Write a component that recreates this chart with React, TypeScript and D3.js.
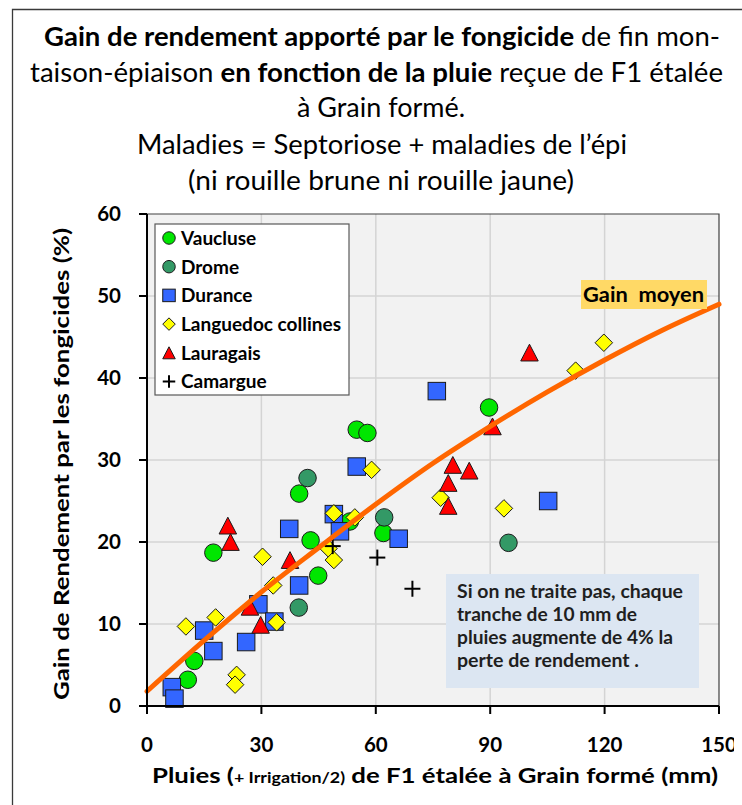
import React from 'react';
import * as d3 from 'd3';

// ---------- data ----------
const xTicks = [0, 30, 60, 90, 120, 150];
const yTicks = [0, 10, 20, 30, 40, 50, 60];

const vaucluseX = [55.0, 57.8, 39.9, 42.9, 17.4, 44.9, 53.2, 62.0, 12.4, 10.7, 89.7];
const vaucluseY = [33.7, 33.3, 25.9, 20.2, 18.7, 15.9, 22.5, 21.1, 5.5, 3.2, 36.4];

const dromeX = [42.1, 62.2, 39.8, 94.8];
const dromeY = [27.8, 23.0, 12.0, 19.9];

const duranceX = [76.0, 55.0, 49.0, 50.6, 37.3, 66.0, 39.9, 29.2, 33.4, 15.0, 17.4, 26.0, 6.5, 7.2, 105.2];
const duranceY = [38.4, 29.2, 23.4, 21.3, 21.6, 20.4, 14.7, 12.4, 10.3, 9.2, 6.7, 7.8, 2.3, 0.9, 25.0];

const languedocX = [58.9, 49.0, 54.5, 47.6, 49.0, 30.3, 33.1, 34.0, 10.2, 18.0, 23.5, 23.1, 77.0, 93.6, 112.4, 119.8];
const languedocY = [28.8, 23.5, 23.0, 19.2, 17.8, 18.2, 14.7, 10.2, 9.7, 10.8, 3.8, 2.6, 25.4, 24.1, 40.9, 44.3];

const lauragaisX = [21.2, 21.9, 37.5, 27.0, 29.8, 100.3, 90.6, 80.2, 84.5, 79.0, 79.0];
const lauragaisY = [22.0, 20.0, 17.8, 12.1, 9.9, 43.1, 34.1, 29.4, 28.7, 27.2, 24.4];

const camargueX = [60.4, 69.6, 48.7];
const camargueY = [18.1, 14.3, 19.5];

const trendX = [0, 15, 30, 45, 60, 75, 90, 105, 120, 135, 150];
const trendY = [1.8, 8.0, 13.9, 19.3, 24.6, 29.6, 34.1, 38.3, 42.2, 45.8, 49.0];

const seriesNames = ['Vaucluse', 'Drome', 'Durance', 'Languedoc collines', 'Lauragais', 'Camargue'];

const noteLines = [
  'Si on ne traite pas, chaque',
  'tranche de 10 mm de',
  'pluies augmente de 4% la',
  'perte de rendement .',
];
const noteWidths = [226, 180, 216, 182];

// ---------- layout / style ----------
const W = 742;
const H = 805;
const P = { left: 147, right: 719, top: 214, bottom: 706 };
const FONT = "Lato, 'Open Sans', sans-serif";

type Kind = 'circle' | 'square' | 'diamond' | 'triangle' | 'plus';

const styles: { kind: Kind; fill: string }[] = [
  { kind: 'circle', fill: '#00E600' },
  { kind: 'circle', fill: '#339966' },
  { kind: 'square', fill: '#3366FF' },
  { kind: 'diamond', fill: '#FFFF00' },
  { kind: 'triangle', fill: '#FF0000' },
  { kind: 'plus', fill: '#000000' },
];

function Marker({ kind, fill, cx, cy, s }: { kind: Kind; fill: string; cx: number; cy: number; s: number }) {
  const stroke = '#1a1a1a';
  if (kind === 'circle') return <circle cx={cx} cy={cy} r={s / 2} fill={fill} stroke={stroke} strokeWidth={1} />;
  if (kind === 'square') return <rect x={cx - s / 2} y={cy - s / 2} width={s} height={s} fill={fill} stroke={stroke} strokeWidth={1} />;
  if (kind === 'diamond') {
    const h = s / 2;
    return <path d={`M${cx},${cy - h}L${cx + h},${cy}L${cx},${cy + h}L${cx - h},${cy}Z`} fill={fill} stroke={stroke} strokeWidth={1} />;
  }
  if (kind === 'triangle') {
    const w = s / 2;
    const h = s * 0.48;
    return <path d={`M${cx},${cy - h}L${cx + w},${cy + h}L${cx - w},${cy + h}Z`} fill={fill} stroke={stroke} strokeWidth={1} />;
  }
  const h = s / 2;
  return (
    <g stroke="#000" strokeWidth={2}>
      <line x1={cx - h} x2={cx + h} y1={cy} y2={cy} />
      <line x1={cx} x2={cx} y1={cy - h} y2={cy + h} />
    </g>
  );
}

export default function App() {
  const x = d3.scaleLinear().domain([0, 150]).range([P.left, P.right]);
  const y = d3.scaleLinear().domain([0, 60]).range([P.bottom, P.top]);

  const seriesX = [vaucluseX, dromeX, duranceX, languedocX, lauragaisX, camargueX];
  const seriesY = [vaucluseY, dromeY, duranceY, languedocY, lauragaisY, camargueY];

  const trendPath = d3
    .line<number>()
    .x((_, i) => x(trendX[i]))
    .y((d) => y(d))
    .curve(d3.curveMonotoneX)(trendY) as string;

  const legendY0 = 238;
  const legendStep = 28.7;

  return (
    <svg width={W} height={H} style={{ position: 'absolute', left: 0, top: 0, display: 'block' }} fontFamily={FONT}>
      <defs>
        <clipPath id="chartClip">
          <rect x={0} y={0} width={734} height={H} />
        </clipPath>
      </defs>
      <rect x={0} y={0} width={W} height={H} fill="#fff" />
      {/* outer frame */}
      <path d={`M12.5,${H + 5}L12.5,9.5L${W + 5},9.5`} fill="none" stroke="#3a3a3a" strokeWidth={1.3} />

      {/* title */}
      <g fontSize={27} fill="#000">
        <text x={44} y={46} textLength={676} lengthAdjust="spacingAndGlyphs">
          <tspan fontWeight="bold">Gain de rendement apporté par le fongicide</tspan>
          <tspan> de fin mon-</tspan>
        </text>
        <text x={30} y={82} textLength={693} lengthAdjust="spacingAndGlyphs">
          <tspan>taison-épiaison </tspan>
          <tspan fontWeight="bold">en fonction de la pluie</tspan>
          <tspan> reçue de F1 étalée</tspan>
        </text>
        <text x={297} y={117} textLength={168} lengthAdjust="spacingAndGlyphs">à Grain formé.</text>
        <text x={137} y={154} textLength={490} lengthAdjust="spacingAndGlyphs">Maladies = Septoriose + maladies de l’épi</text>
        <text x={188} y={190} textLength={386} lengthAdjust="spacingAndGlyphs">(ni rouille brune ni rouille jaune)</text>
      </g>

      {/* plot background */}
      <rect x={P.left} y={P.top} width={P.right - P.left} height={P.bottom - P.top} fill="#F2F2F2" />
      {/* grid */}
      <g stroke="#D4D4D4" strokeWidth={1.5}>
        {xTicks.filter((t) => t > 0 && t < 150).map((t) => (
          <line key={'gx' + t} x1={x(t)} x2={x(t)} y1={P.top} y2={P.bottom} />
        ))}
        {yTicks.filter((t) => t > 0 && t < 60).map((t) => (
          <line key={'gy' + t} x1={P.left} x2={P.right} y1={y(t)} y2={y(t)} />
        ))}
      </g>
      {/* top/right border */}
      <path d={`M${P.left},${P.top}L${P.right},${P.top}L${P.right},${P.bottom}`} fill="none" stroke="#404040" strokeWidth={1.2} />

      {/* annotation box */}
      <rect x={446} y={574} width={253} height={114} fill="#DCE6F2" />
      <g fontSize={18.5} fontWeight="bold" fill="#1f1f1f">
        {noteLines.map((t, i) => (
          <text key={t} x={457} y={598 + i * 23} textLength={noteWidths[i]} lengthAdjust="spacingAndGlyphs">
            {t}
          </text>
        ))}
      </g>

      {/* points */}
      {seriesX.map((xs, si) => (
        <g key={'s' + si}>
          {xs.map((xv, i) => (
            <Marker key={i} kind={styles[si].kind} fill={styles[si].fill} cx={x(xv)} cy={y(seriesY[si][i])} s={si === 5 ? 16 : 17.5} />
          ))}
        </g>
      ))}

      {/* trend */}
      <path d={trendPath} fill="none" stroke="#FF6600" strokeWidth={5} strokeLinecap="round" />

      {/* Gain moyen */}
      <rect x={581} y={280} width={126} height={29} fill="#FFD966" />
      <text x={583} y={302} fontSize={21} fontWeight="bold" textLength={121} lengthAdjust="spacingAndGlyphs">{'Gain\u00A0 moyen'}</text>

      {/* legend */}
      <rect x={155} y={224} width={194} height={171} fill="#fff" stroke="#595959" strokeWidth={1.2} />
      {seriesNames.map((n, i) => (
        <g key={n}>
          <Marker kind={styles[i].kind} fill={styles[i].fill} cx={169} cy={legendY0 + i * legendStep} s={12.5} />
          <text x={181} y={legendY0 + i * legendStep} dy="0.36em" fontSize={19} fontWeight="bold">{n}</text>
        </g>
      ))}

      {/* axes */}
      <g stroke="#000" strokeWidth={2}>
        <line x1={P.left} x2={P.left} y1={P.top} y2={P.bottom + 1} />
        <line x1={P.left - 1} x2={P.right} y1={P.bottom} y2={P.bottom} />
        {yTicks.map((t) => (
          <line key={'ty' + t} x1={P.left - 8} x2={P.left} y1={y(t)} y2={y(t)} />
        ))}
        {xTicks.map((t) => (
          <line key={'tx' + t} x1={x(t)} x2={x(t)} y1={P.bottom} y2={P.bottom + 8} />
        ))}
      </g>
      <g fontSize={20.5} fontWeight="bold" fill="#000">
        {yTicks.map((t) => (
          <text key={'ly' + t} x={121} y={y(t)} dy="0.36em" textAnchor="end">{t}</text>
        ))}
        <g clipPath="url(#chartClip)">
          {xTicks.map((t) => (
            <text key={'lx' + t} x={x(t)} y={752} textAnchor="middle">{t}</text>
          ))}
        </g>
      </g>

      {/* axis titles */}
      <text x={152} y={783} fontWeight="bold" fontSize={21} textLength={566} lengthAdjust="spacingAndGlyphs">
        <tspan>Pluies (</tspan>
        <tspan fontSize={14.5}>+ Irrigation/2)</tspan>
        <tspan> de F1 étalée à Grain formé (mm)</tspan>
      </text>
      <text
        transform={`translate(62,464) rotate(-90)`}
        textAnchor="middle"
        dy="0.35em"
        fontWeight="bold"
        fontSize={21}
        textLength={472}
        lengthAdjust="spacingAndGlyphs"
      >
        Gain de Rendement par les fongicides (%)
      </text>
    </svg>
  );
}
